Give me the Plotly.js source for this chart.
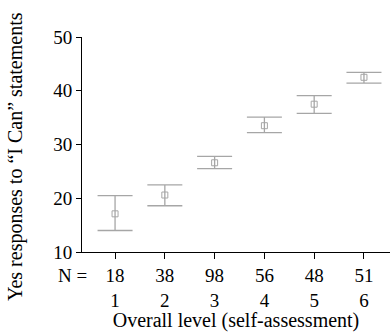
<!DOCTYPE html>
<html>
<head>
<meta charset="utf-8">
<script src="https://cdn.plot.ly/plotly-3.0.1.min.js"></script>
<style>html,body{margin:0;padding:0;background:#fff;}#chart{width:390px;height:332px;}</style>
</head>
<body>
<div id="chart"></div>
<script>
var levels = [1, 2, 3, 4, 5, 6];
var nCounts = [18, 38, 98, 56, 48, 51];
var means = [17.1, 20.6, 26.6, 33.5, 37.5, 42.5];
var upper = [20.5, 22.5, 27.8, 35.1, 39.1, 43.4];
var lower = [14.0, 18.6, 25.5, 32.2, 35.8, 41.4];

var yTitle = 'Yes responses to \u201cI Can\u201d statements';
var xTitle = 'Overall level (self-assessment)';
var nLabel = 'N =';

var errPlus = means.map(function(m, i){ return upper[i] - m; });
var errMinus = means.map(function(m, i){ return m - lower[i]; });
var tickText = levels.map(function(l, i){ return nCounts[i] + '<br>' + l; });

var grey = '#a6a6a6';
var fam = '"Liberation Serif", "Times New Roman", serif';
var font = {family: fam, size: 19, color: '#000'};
var yTitleFont = {family: fam, size: 20, color: '#000'};
var xTitleFont = {family: fam, size: 20, color: '#000'};

var trace = {
  x: levels,
  y: means,
  type: 'scatter',
  mode: 'markers',
  marker: {symbol: 'square-open', size: 6, color: grey, line: {width: 1, color: grey}},
  error_y: {type: 'data', symmetric: false, array: errPlus, arrayminus: errMinus,
            color: grey, thickness: 1.3, width: 17.5},
  hoverinfo: 'none'
};

var layout = {
  width: 390, height: 332,
  margin: {l: 82, r: 0, t: 37, b: 80},
  paper_bgcolor: '#fff', plot_bgcolor: '#fff',
  font: font,
  showlegend: false,
  xaxis: {
    range: [0.336, 6.523],
    tickmode: 'array', tickvals: levels, ticktext: tickText,
    showgrid: false, zeroline: false, showline: true, linecolor: '#000', linewidth: 1,
    ticks: 'outside', ticklen: 6, tickcolor: '#000', tickwidth: 1,
    tickfont: font,
    title: {text: xTitle, font: xTitleFont, standoff: 4},
    automargin: false, fixedrange: true
  },
  yaxis: {
    range: [10, 50],
    tickvals: [10, 20, 30, 40, 50],
    showgrid: false, zeroline: false, showline: true, linecolor: '#000', linewidth: 1,
    ticks: 'outside', ticklen: 5, tickcolor: '#000', tickwidth: 1,
    tickfont: font,
    automargin: false, fixedrange: true
  },
  annotations: [
    {text: nLabel, xref: 'paper', yref: 'paper', x: (72 - 82) / 308, y: (252 - 275) / 215,
     xanchor: 'center', yanchor: 'middle', showarrow: false, font: font},
    {text: yTitle, xref: 'paper', yref: 'paper', x: (15 - 82) / 308, y: (252 - 157) / 215,
     xanchor: 'center', yanchor: 'middle', textangle: -90, showarrow: false, font: yTitleFont}
  ]
};

Plotly.newPlot('chart', [trace], layout, {staticPlot: true, displayModeBar: false});
</script>
</body>
</html>
